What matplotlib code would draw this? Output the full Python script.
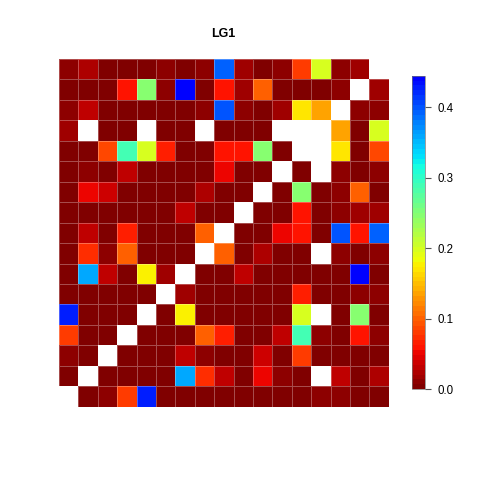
import numpy as np
import matplotlib
matplotlib.use("Agg")
import matplotlib.pyplot as plt
from matplotlib.colors import ListedColormap, Normalize

plt.rcParams['font.family'] = ['Liberation Sans', 'DejaVu Sans']

title = "LG1"
nan = np.nan

# matrix rows, listed top row first, left column first
row00 = [0.007, 0.026, 0, 0.005, 0, 0.011, 0, 0.011, 0.394, 0.014, 0, 0.011, 0.082, 0.195, 0.007, 0.019, nan]
row01 = [0, 0, 0.003, 0.058, 0.247, 0.011, 0.445, 0.003, 0.057, 0.014, 0.101, 0.003, 0, 0, 0.007, nan, 0.019]
row02 = [0.007, 0.034, 0, 0, 0, 0.004, 0, 0.011, 0.403, 0.011, 0.006, 0.014, 0.173, 0.137, nan, 0.007, 0.007]
row03 = [0.014, nan, 0, 0.005, nan, 0, 0, nan, 0, 0, 0.003, nan, nan, nan, 0.137, 0, 0.195]
row04 = [0, 0, 0.089, 0.288, 0.195, 0.063, 0, 0, 0.057, 0.058, 0.247, 0, nan, nan, 0.173, 0, 0.089]
row05 = [0, 0.007, 0.003, 0.034, 0, 0, 0, 0, 0.049, 0, 0.003, nan, 0, nan, 0.011, 0, 0.011]
row06 = [0, 0.049, 0.041, 0, 0, 0, 0, 0.026, 0, 0, nan, 0, 0.247, 0, 0.007, 0.101, 0]
row07 = [0, 0, 0.003, 0, 0, 0, 0.034, 0, 0, nan, 0, 0, 0.058, 0, 0.007, 0.014, 0.014]
row08 = [0, 0.034, 0, 0.063, 0, 0, 0, 0.101, nan, 0, 0.003, 0.049, 0.057, 0, 0.403, 0.057, 0.394]
row09 = [0, 0.072, 0.007, 0.101, 0, 0, 0, nan, 0.101, 0, 0.026, 0, 0, nan, 0.011, 0, 0.011]
row10 = [0, 0.36, 0.034, 0, 0.18, 0.019, nan, 0, 0, 0.034, 0, 0, 0, 0.003, 0, 0.445, 0]
row11 = [0, 0, 0, 0, 0, nan, 0.019, 0, 0, 0, 0, 0, 0.063, 0, 0.003, 0.011, 0.011]
row12 = [0.428, 0, 0, 0, nan, 0, 0.18, 0, 0, 0, 0, 0, 0.195, nan, 0, 0.247, 0]
row13 = [0.082, 0, 0, nan, 0, 0, 0, 0.101, 0.063, 0, 0, 0.034, 0.288, 0.007, 0, 0.058, 0.007]
row14 = [0.007, 0, nan, 0, 0, 0, 0.034, 0.007, 0, 0, 0.041, 0, 0.082, 0, 0, 0, 0]
row15 = [0, nan, 0, 0, 0, 0, 0.36, 0.072, 0.034, 0, 0.049, 0.007, 0, nan, 0.034, 0, 0.026]
row16 = [nan, 0, 0.007, 0.082, 0.428, 0, 0, 0, 0, 0, 0, 0, 0, 0.011, 0.007, 0, 0]

cbar_ticks = [0.0, 0.1, 0.2, 0.3, 0.4]

mat = np.array([row00, row01, row02, row03, row04, row05, row06, row07, row08,
                row09, row10, row11, row12, row13, row14, row15, row16])

# reversed jet without its darkest blue end
cmap = ListedColormap(plt.get_cmap('jet')(np.linspace(1.0, 0.125, 64)))
cmap.set_bad('white')
vmax = np.nanmax(mat)
norm = Normalize(vmin=0, vmax=vmax)

fig = plt.figure(figsize=(4.8, 4.8), dpi=100)
ax = fig.add_axes([0.1229, 0.1527, 0.687, 0.7244])
ax.pcolormesh(np.ma.masked_invalid(mat), cmap=cmap, norm=norm,
              edgecolors=(1, 1, 1, 0.3), linewidth=0.5)
ax.set_xlim(0, mat.shape[1])
ax.set_ylim(mat.shape[0], 0)
ax.axis('off')

fig.text(0.4644, 0.9223, title, ha='center', va='baseline',
         fontsize=9, fontweight='bold')

cax = fig.add_axes([0.8577, 0.189, 0.0277, 0.6533])
sm = plt.cm.ScalarMappable(cmap=cmap, norm=norm)
cb = fig.colorbar(sm, cax=cax, ticks=cbar_ticks)
cb.ax.set_yticklabels(["%.1f" % t for t in cbar_ticks])
cb.ax.tick_params(labelsize=8.3, length=4, width=0.8, color='#555555', pad=5)
cb.outline.set_linewidth(0.5)
cb.outline.set_edgecolor('#777777')

fig.savefig("out.png", dpi=100)
